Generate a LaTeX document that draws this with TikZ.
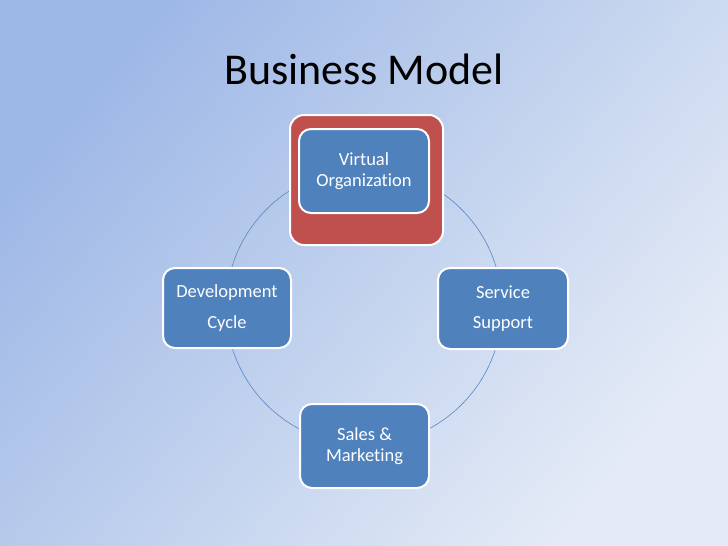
\documentclass[tikz,border=0pt]{standalone}
\usepackage{fontspec}
\setmainfont{Carlito}[Ligatures={NoCommon}]
\definecolor{bgA}{HTML}{9EB8E6}
\definecolor{bgB}{HTML}{E4EBF6}
\definecolor{boxblue}{HTML}{4F81BD}
\definecolor{boxred}{HTML}{C0504D}
\definecolor{ringline}{HTML}{5B86C0}
\tikzset{
  cyclebox/.style={draw=white, line width=2pt, fill=boxblue, rounded corners=12pt, text=white, font=\fontsize{18.5}{21.5}\selectfont, align=center, inner sep=0pt},
}
\begin{document}
\begin{tikzpicture}[x=1pt,y=-1pt]
\useasboundingbox (0,0) rectangle (728,546);
\shade[top color=bgA, bottom color=bgB, shading angle=50] (0,0) rectangle (728,546);
\node[font=\fontsize{44}{52}\selectfont, text=black] (title) at (364,69) {Business Model};
% ring
\draw[ringline, line width=0.6pt] (364,307) circle[radius=138];
% highlight
\draw[draw=white, line width=2pt, fill=boxred, rounded corners=14pt] (290,115) rectangle (443,245);
\node[cyclebox, minimum width=130pt, minimum height=84pt, anchor=north west] (vo) at (298,128) {};
\node[text=white, font=\fontsize{18.5}{21.5}\selectfont, align=center] (votext) at (vo.center) {Virtual\\Organization};
\node[cyclebox, minimum width=128pt, minimum height=80pt, anchor=north west, font=\fontsize{18.5}{30.5}\selectfont] (dc) at (162,267) {Development\\Cycle};
\node[cyclebox, minimum width=130pt, minimum height=81pt, anchor=north west, font=\fontsize{18.5}{30.5}\selectfont] (ss) at (437,267) {Service\\Support};
\node[cyclebox, minimum width=129pt, minimum height=84pt, anchor=north west] (sm) at (299,403) {Sales \&\\Marketing};
\end{tikzpicture}
\end{document}
